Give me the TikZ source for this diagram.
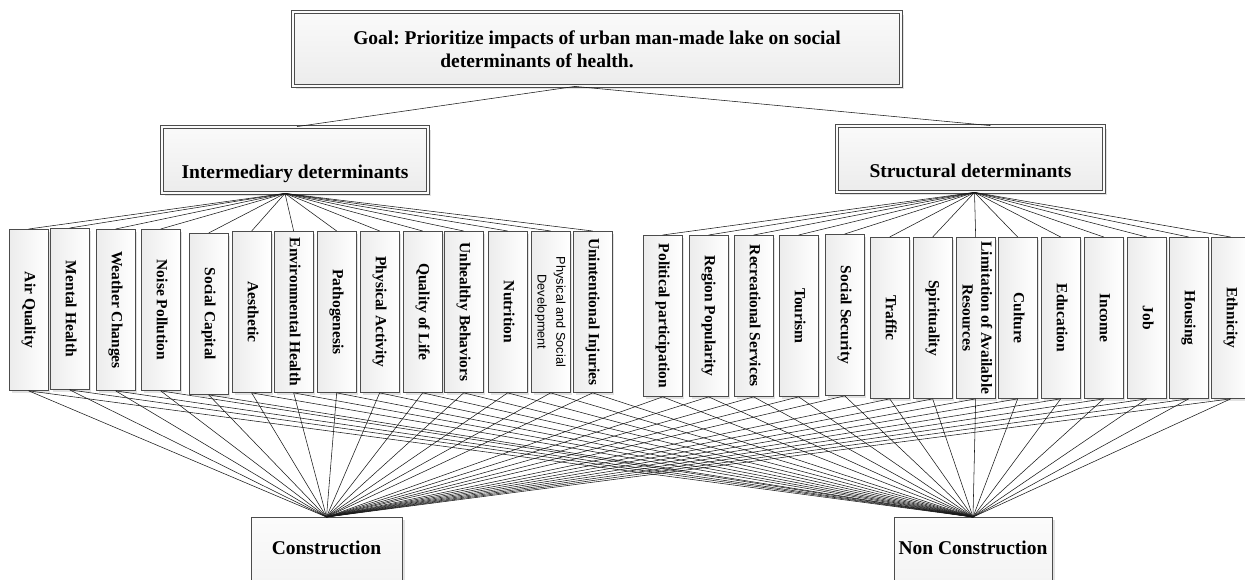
\documentclass[tikz,border=0pt]{standalone}
\usepackage{fontspec}
\setmainfont{Liberation Serif}
\newfontfamily\sansfnt{Liberation Sans}
\usetikzlibrary{shadows}
\frenchspacing
% vertical label, read from top to bottom
\newcommand{\vtext}[1]{\rotatebox{-90}{\begin{tabular}{@{}c@{}}#1\end{tabular}}}
\newcommand{\smallsans}{\sansfnt\mdseries\fontsize{12.7}{15}\selectfont}
\newcommand{\bigbf}{\bfseries\fontsize{19.5}{23.4}\selectfont}

\begin{document}
\begin{tikzpicture}[x=1pt,y=-1pt,
  box/.style={ draw=gray!60!black, line width=0.85pt,
               drop shadow={shadow xshift=2.5pt,shadow yshift=-2.5pt,fill=gray!45} },
  topbox/.style={ box, line width=0.8pt, double=gray!3, double distance=2.2pt,
                  top color=gray!4, bottom color=gray!15, font=\bigbf },
  midbox/.style={ topbox, minimum height=70pt, text height=36pt, text depth=0pt },
  endbox/.style={ box, top color=gray!3, bottom color=gray!10, minimum height=80pt,
                  anchor=north, font=\bigbf, text height=13pt, text depth=19pt },
  leaf/.style={ box, left color=gray!15, right color=white, inner sep=0pt,
                minimum width=38.5pt, minimum height=161pt, anchor=north west,
                font=\bfseries\fontsize{15.5}{18.6}\selectfont },
  wire/.style={ draw=black!90, line width=0.55pt }]
\useasboundingbox (0,0) rectangle (1245,579);

% goal and criteria
\node[ topbox, minimum width=608pt, minimum height=74pt, align=center ] (goal) at (597,49)
  {Goal: Prioritize impacts of urban man-made lake on social\\determinants of health.\hspace*{120pt}};
\node[ midbox, minimum width=266pt, minimum height=66pt ] (int) at (295,160) {Intermediary determinants};
\node[ midbox, minimum width=267pt, minimum height=66pt ] (str) at (970.5,159) {Structural determinants};
\draw[wire] ([xshift=-22pt]goal.south) -- ([xshift=2pt]int.north);
\draw[wire] ([xshift=-22pt]goal.south) -- ([xshift=20pt]str.north);

% alternatives
\node[ endbox, minimum width=151pt ] (con) at (326.5,517) {Construction};
\node[ endbox, minimum width=158pt ] (ncon) at (973,517) {Non Construction};

% sub-criteria under intermediary determinants
\foreach \x/\y/\nm/\txt in {9/229/air/{Air Quality}, 50/228/mental/{Mental Health},
    96/229/weather/{Weather Changes}, 141/229/noise/{Noise Pollution},
    189/233/capital/{Social Capital}, 232/231/aesth/{Aesthetic},
    274/231/envh/{Environmental Health}, 317/231/patho/{Pathogenesis},
    360/231/phact/{Physical Activity}, 403/231/qol/{Quality of Life},
    444/231/unhb/{Unhealthy Behaviors}, 488/231/nutr/{Nutrition},
    531/231/phsoc/{\smallsans Physical and Social\\\smallsans Development},
    573/231/injur/{Unintentional Injuries}}
{
  \node[ leaf ] (\nm) at (\x,\y) {\vtext{\txt}};
  \draw[wire] (\nm.north) -- ([xshift=-10pt]int.south);
  \draw[wire] (\nm.south) -- (con.north);
  \draw[wire] (\nm.south) -- (ncon.north);
}

% sub-criteria under structural determinants
\foreach \x/\y/\nm/\txt in {643/235/polit/{Political participation}, 689/235/region/{Region Popularity},
    734/235/recr/{Recreational Services}, 779/235/tour/{Tourism},
    825/234/secur/{Social Security}, 870/237/traf/{Traffic},
    913/237/spirit/{Spirituality}, 956/237/limit/{Limitation of Available\\Resources},
    998/237/cult/{Culture}, 1041/237/educ/{Education},
    1084/237/income/{Income}, 1127/237/job/{Job},
    1169/237/house/{Housing}, 1211/237/ethn/{Ethnicity}}
{
  \node[ leaf ] (\nm) at (\x,\y) {\vtext{\txt}};
  \draw[wire] (\nm.north) -- ([xshift=4pt]str.south);
  \draw[wire] (\nm.south) -- (con.north);
  \draw[wire] (\nm.south) -- (ncon.north);
}
\end{tikzpicture}
\end{document}
